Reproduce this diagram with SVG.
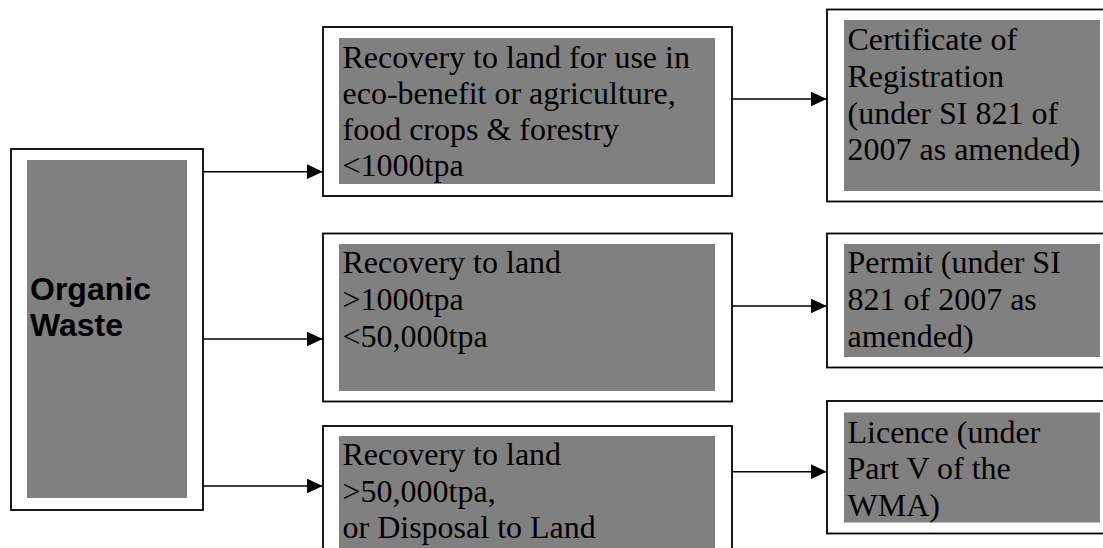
<svg xmlns="http://www.w3.org/2000/svg" width="1103" height="548" viewBox="0 0 1103 548">
<style>
.outer{fill:#ffffff;stroke:#000000;stroke-width:1.8}
.inner{fill:#808080;stroke:none}
.t{font-family:"Liberation Serif","Times New Roman",serif;font-size:32px;fill:#000000}
.b{font-family:"Liberation Sans",Arial,sans-serif;font-size:32px;font-weight:bold;fill:#000000}
.c{stroke:#000000;stroke-width:1.6;fill:none}
</style>
<defs>
<marker id="ah" markerUnits="userSpaceOnUse" markerWidth="16" markerHeight="15" refX="16" refY="7.5" orient="auto">
<path d="M0,0 L16,7.5 L0,15 z" fill="#000000"/>
</marker>
</defs>
<rect width="1103" height="548" fill="#ffffff"/>
<g id="organic-waste">
<rect class="outer" x="11" y="149" width="192" height="361" stroke-width="2.2"/>
<rect class="inner" x="27" y="160" width="160" height="338"/>
<text class="b" x="30" y="300"><tspan x="30" dy="0">Organic</tspan><tspan x="30" dy="36">Waste</tspan></text>
</g>
<g id="recovery-small">
<rect class="outer" x="323" y="27" width="409" height="169"/>
<rect class="inner" x="339" y="38" width="376" height="146"/>
<text class="t" x="342.5" y="67.5"><tspan x="342.5" dy="0">Recovery to land for use in</tspan><tspan x="342.5" dy="36.3">eco-benefit or agriculture,</tspan><tspan x="342.5" dy="36.3">food crops &amp; forestry</tspan><tspan x="342.5" dy="36.3">&lt;1000tpa</tspan></text>
</g>
<g id="recovery-medium">
<rect class="outer" x="323" y="233.5" width="409" height="168"/>
<rect class="inner" x="339" y="244" width="376" height="147"/>
<text class="t" x="342.5" y="273.3"><tspan x="342.5" dy="0">Recovery to land</tspan><tspan x="342.5" dy="36.7">&gt;1000tpa</tspan><tspan x="342.5" dy="36.7">&lt;50,000tpa</tspan></text>
</g>
<g id="recovery-large">
<rect class="outer" x="323" y="426" width="409" height="140"/>
<rect class="inner" x="339" y="436" width="376" height="130"/>
<text class="t" x="342.5" y="465"><tspan x="342.5" dy="0">Recovery to land</tspan><tspan x="342.5" dy="36.7">&gt;50,000tpa,</tspan><tspan x="342.5" dy="36.7">or Disposal to Land</tspan></text>
</g>
<g id="certificate">
<rect class="outer" x="827" y="9.5" width="290" height="192"/>
<rect class="inner" x="844" y="20" width="256" height="171"/>
<text class="t" x="847.5" y="50"><tspan x="847.5" dy="0">Certificate of</tspan><tspan x="847.5" dy="36.8">Registration</tspan><tspan x="847.5" dy="36.8">(under SI 821 of</tspan><tspan x="847.5" dy="36.8">2007 as amended)</tspan></text>
</g>
<g id="permit">
<rect class="outer" x="827" y="233.5" width="290" height="134"/>
<rect class="inner" x="844" y="244" width="256" height="113"/>
<text class="t" x="847.5" y="273.3"><tspan x="847.5" dy="0">Permit (under SI</tspan><tspan x="847.5" dy="36.7">821 of 2007 as</tspan><tspan x="847.5" dy="36.7">amended)</tspan></text>
</g>
<g id="licence">
<rect class="outer" x="827" y="401" width="290" height="132.5"/>
<rect class="inner" x="844" y="412.5" width="256" height="110"/>
<text class="t" x="847.5" y="442.5"><tspan x="847.5" dy="0">Licence (under</tspan><tspan x="847.5" dy="36.5">Part V of the</tspan><tspan x="847.5" dy="36.5">WMA)</tspan></text>
</g>
<g id="connectors">
<line class="c" x1="203" y1="171.7" x2="322.7" y2="171.7" marker-end="url(#ah)"/>
<line class="c" x1="203" y1="339" x2="322.7" y2="339" marker-end="url(#ah)"/>
<line class="c" x1="203" y1="486" x2="322.7" y2="486" marker-end="url(#ah)"/>
<line class="c" x1="732" y1="99" x2="826.7" y2="99" marker-end="url(#ah)"/>
<line class="c" x1="732" y1="306" x2="826.7" y2="306" marker-end="url(#ah)"/>
<line class="c" x1="732" y1="471.7" x2="826.7" y2="471.7" marker-end="url(#ah)"/>
</g>
</svg>
